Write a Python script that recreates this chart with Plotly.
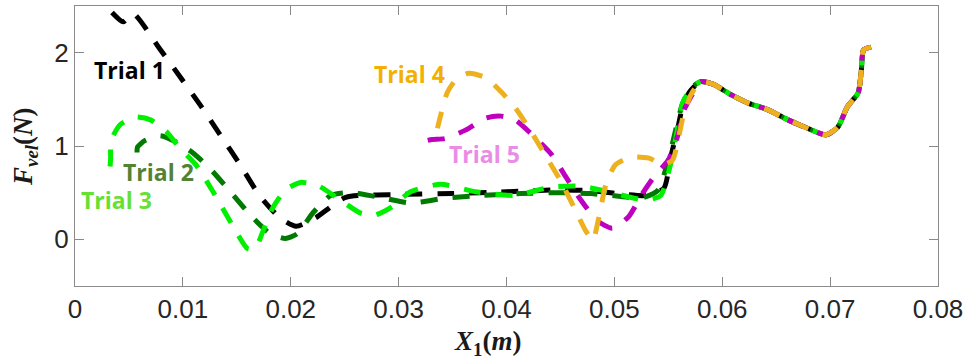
import plotly.graph_objects as go

# ---- data ----
common_x = [0.0580, 0.0592, 0.0608, 0.0624, 0.0642, 0.0661, 0.0679, 0.0696,
            0.0707, 0.0716, 0.0726, 0.0729, 0.0731, 0.0738]
common_y = [1.69, 1.66, 1.55, 1.46, 1.39, 1.28, 1.19, 1.12,
            1.20, 1.42, 1.57, 1.82, 2.03, 2.06]

t1_x = [0.00343, 0.00446, 0.00538, 0.0078, 0.00975, 0.0116, 0.01346, 0.0153,
        0.0171, 0.0190, 0.0205, 0.0223, 0.0251, 0.0300, 0.0350, 0.0400,
        0.0450, 0.0480, 0.0510, 0.0530, 0.0546, 0.0552, 0.0559, 0.0564, 0.0571]
t1_y = [2.43, 2.33, 2.42, 2.05, 1.74, 1.44, 1.12, 0.80,
        0.47, 0.23, 0.14, 0.23, 0.45, 0.48, 0.49, 0.51,
        0.53, 0.52, 0.48, 0.47, 0.55, 0.87, 1.20, 1.46, 1.60]

t2_x = [0.00575, 0.00580, 0.0065, 0.0079, 0.0096, 0.0110, 0.0125, 0.0144,
        0.0165, 0.0181, 0.0195, 0.0206, 0.0221, 0.0237, 0.0255, 0.0278,
        0.0311, 0.0343, 0.0376, 0.0413, 0.0450, 0.0478, 0.0506, 0.0524,
        0.0540, 0.0550, 0.0557, 0.0563, 0.0570]
t2_y = [0.93, 0.99, 1.06, 1.11, 1.03, 0.92, 0.76, 0.51,
        0.23, 0.06, 0.01, 0.06, 0.29, 0.47, 0.50, 0.46,
        0.39, 0.44, 0.47, 0.49, 0.50, 0.49, 0.46, 0.44,
        0.52, 0.85, 1.18, 1.45, 1.61]

t3_x = [0.00325, 0.00330, 0.00335, 0.0042, 0.0056, 0.0070, 0.0085, 0.0097,
        0.0112, 0.0128, 0.0146, 0.0160, 0.0167, 0.0174, 0.0183, 0.0195,
        0.0209, 0.0226, 0.0246, 0.0265, 0.0278, 0.0294, 0.0311, 0.0339,
        0.0371, 0.0408, 0.0441, 0.0469, 0.0501, 0.0529, 0.0543, 0.0552,
        0.0558, 0.0563, 0.0571]
t3_y = [0.78, 0.86, 1.06, 1.23, 1.31, 1.28, 1.15, 0.98,
        0.80, 0.51, 0.15, -0.10, -0.10, 0.08, 0.33, 0.53,
        0.61, 0.57, 0.42, 0.28, 0.26, 0.35, 0.51, 0.59,
        0.51, 0.47, 0.56, 0.57, 0.49, 0.42, 0.47, 0.80,
        1.15, 1.45, 1.62]

t4_x = [0.0336, 0.0339, 0.0345, 0.0353, 0.0365, 0.0381, 0.0395, 0.0408,
        0.0422, 0.0436, 0.0450, 0.0464, 0.0473, 0.0480, 0.0485, 0.0492,
        0.0501, 0.0515, 0.0532, 0.0545, 0.0554, 0.0559, 0.0564, 0.0571]
t4_y = [1.19, 1.33, 1.57, 1.71, 1.78, 1.73, 1.58, 1.41,
        1.17, 0.90, 0.63, 0.31, 0.10, -0.01, 0.20, 0.58,
        0.80, 0.88, 0.87, 0.80, 0.85, 1.06, 1.33, 1.55]

t5_x = [0.0327, 0.0331, 0.0343, 0.0362, 0.0381, 0.0395, 0.0408, 0.0422,
        0.0441, 0.0455, 0.0469, 0.0484, 0.0498, 0.0513, 0.0526, 0.0538,
        0.0550, 0.0559, 0.0564, 0.0573]
t5_y = [1.06, 1.07, 1.08, 1.17, 1.30, 1.32, 1.28, 1.14,
        0.92, 0.67, 0.42, 0.20, 0.12, 0.24, 0.49, 0.69,
        0.85, 1.12, 1.37, 1.57]

trial_names = ["Trial 1", "Trial 2", "Trial 3", "Trial 4", "Trial 5"]
line_colors = ["#000000", "#007A00", "#00F000", "#EDB120", "#BF00BF"]
label_colors = ["#000000", "#548235", "#66E033", "#F2B000", "#EA8CE6"]
label_x = [0.00501, 0.00770, 0.00381, 0.0310, 0.0380]
label_y = [1.817, 0.72, 0.42, 1.774, 0.914]

x_ticks = [0, 0.01, 0.02, 0.03, 0.04, 0.05, 0.06, 0.07, 0.08]
x_tick_text = ["0", "0.01", "0.02", "0.03", "0.04", "0.05", "0.06", "0.07", "0.08"]
y_ticks = [0, 1, 2]

series = {
    "Trial 1": (t1_x, t1_y),
    "Trial 2": (t2_x, t2_y),
    "Trial 3": (t3_x, t3_y),
    "Trial 4": (t4_x, t4_y),
    "Trial 5": (t5_x, t5_y),
}

fig = go.Figure()
order = [0, 1, 2, 4, 3]
for i in order:
    name = trial_names[i]
    xs, ys = series[name]
    fig.add_trace(go.Scatter(
        x=list(xs) + common_x, y=list(ys) + common_y, mode="lines", name=name,
        line=dict(color=line_colors[i], width=5, dash="17px,15px", shape="spline",
                  smoothing=0.6),
        showlegend=False, hoverinfo="skip"))

for i, name in enumerate(trial_names):
    fig.add_annotation(x=label_x[i], y=label_y[i], text="<b>%s</b>" % name,
                       showarrow=False, xanchor="center", yanchor="middle",
                       font=dict(family="Open Sans", size=23, color=label_colors[i]))

fig.add_annotation(x=0.478, y=-0.205, xref="paper", yref="paper",
                   text="<b><i>X</i><sub>1</sub>(<i>m</i>)</b>", showarrow=False,
                   xanchor="center", yanchor="middle",
                   font=dict(family="Liberation Serif", size=27, color="#1a1a1a"))
fig.add_annotation(x=-0.058, y=0.5, xref="paper", yref="paper",
                   text="<b><i>F</i><sub><i>vel</i></sub>(<i>N</i>)</b>", showarrow=False,
                   textangle=-90, xanchor="center", yanchor="middle",
                   font=dict(family="Liberation Serif", size=27, color="#1a1a1a"))

axis_common = dict(showline=True, linecolor="#8a8a8a", linewidth=1, mirror="ticks",
                   ticks="inside", ticklen=9, tickcolor="#8a8a8a", tickwidth=1,
                   showgrid=False, zeroline=False,
                   tickfont=dict(family="Liberation Sans", size=26, color="#262626"))

fig.update_xaxes(range=[0, 0.08], tickvals=x_ticks, ticktext=x_tick_text, **axis_common)
fig.update_yaxes(range=[-0.5, 2.5], tickvals=y_ticks, **axis_common)

fig.update_layout(width=968, height=364, margin=dict(l=75, r=30, t=6, b=78),
                  plot_bgcolor="white", paper_bgcolor="white")

fig.write_html("out.html")
